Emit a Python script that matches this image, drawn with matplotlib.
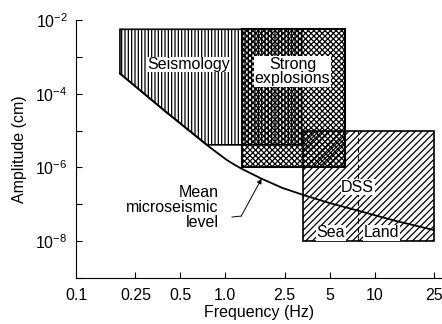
import numpy as np
import matplotlib
matplotlib.use("Agg")
import matplotlib.pyplot as plt
from matplotlib.patches import Polygon, Rectangle

plt.rcParams['font.family'] = ['Liberation Sans', 'DejaVu Sans']
plt.rcParams['mathtext.default'] = 'regular'
plt.rcParams['hatch.linewidth'] = 0.9

# Mean microseismic level curve (Hz, cm)
curve_freq = [0.197, 0.395, 0.781, 0.90, 1.03, 1.15, 1.30, 1.74, 2.4, 3.39, 5.0, 7.57, 14.0, 25.0]
curve_amp = [3.53e-4, 3.37e-5, 3.62e-6, 2.35e-6, 1.57e-6, 1.19e-6, 9.0e-7, 5.0e-7, 2.8e-7,
             1.75e-7, 1.08e-7, 6.9e-8, 3.5e-8, 2.0e-8]

# Regions: (f_min, f_max, a_min, a_max)
seismology = (0.197, 3.25, 4.1e-6, 5.6e-3)
explosions = (1.3, 6.3, 1.0e-6, 5.6e-3)
dss = (3.3, 25.0, 1.0e-8, 1.0e-5)
dss_split = 7.7

xticks = [0.1, 0.25, 0.5, 1.0, 2.5, 5, 10, 25]
xticklabels = ['0.1', '0.25', '0.5', '1.0', '2.5', '5', '10', '25']
yticks = [1e-9, 1e-8, 1e-7, 1e-6, 1e-5, 1e-4, 1e-3, 1e-2]
yticklabels = ['', r'$10^{-8}$', '', r'$10^{-6}$', '', r'$10^{-4}$', '', r'$10^{-2}$']

FS = 11.5

fig = plt.figure(figsize=(4.42, 3.24), dpi=100)
ax = fig.add_axes([76/442, 46/324, 366/442, 258/324])
ax.set_xscale('log')
ax.set_yscale('log')
ax.set_xlim(0.1, 28.3)
ax.set_ylim(1e-9, 1e-2)

lf = np.log10(curve_freq)
la = np.log10(curve_amp)

# Seismology polygon: box bounded below by the curve
f0, f1, a0, a1 = seismology
xc = 10 ** np.interp(np.log10(a0), la[::-1], lf[::-1])
mask = np.array(curve_freq) < xc
cf = list(np.array(curve_freq)[mask]) + [xc]
ca = list(np.array(curve_amp)[mask]) + [a0]
verts = [(f0, a1), (f1, a1), (f1, a0)] + list(zip(cf[::-1], ca[::-1]))
ax.add_patch(Polygon(verts, closed=True, facecolor='none', edgecolor='black',
                     hatch='|||||', lw=1.2, zorder=2))

# Strong explosions
f0, f1, a0, a1 = explosions
ax.add_patch(Rectangle((f0, a0), f1 - f0, a1 - a0, facecolor='none', edgecolor='black',
                       hatch='xxxxxx', lw=1.5, zorder=2))

# DSS
f0, f1, a0, a1 = dss
ax.add_patch(Rectangle((f0, a0), f1 - f0, a1 - a0, facecolor='none', edgecolor='black',
                       hatch='/////', lw=1.2, zorder=2))
ax.plot([dss_split, dss_split], [a0, a1], color='black', lw=0.8,
        linestyle=(0, (5, 3)), zorder=3)

# Mean microseismic curve
ax.plot(curve_freq, curve_amp, color='black', lw=1.3, zorder=4)

bb = dict(facecolor='white', edgecolor='none', pad=0.3)
ax.text(0.565, 6.2e-4, 'Seismology', ha='center', va='center', fontsize=FS, bbox=bb, zorder=5)
ax.text(2.82, 4.0e-4, 'Strong\nexplosions', ha='center', va='center', fontsize=FS,
        linespacing=0.95, bbox=bb, zorder=5)
ax.text(7.7, 2.9e-7, 'DSS', ha='center', va='center', fontsize=FS, bbox=bb, zorder=5)
ax.text(5.1, 1.7e-8, 'Sea', ha='center', va='center', fontsize=FS, bbox=bb, zorder=5)
ax.text(11.1, 1.7e-8, 'Land', ha='center', va='center', fontsize=FS, bbox=bb, zorder=5)

ax.text(0.90, 8.3e-8, 'Mean\nmicroseismic\nlevel', ha='right', va='center', fontsize=FS,
        linespacing=1.0, zorder=5)
ax.plot([1.11, 1.28], [4.5e-8, 4.8e-8], color='black', lw=0.7, zorder=5)
ax.annotate('', xy=(1.75, 4.95e-7), xytext=(1.28, 4.8e-8),
            arrowprops=dict(arrowstyle='-|>', lw=0.7, color='black', mutation_scale=7,
                            shrinkA=0, shrinkB=0), zorder=5)

ax.set_xticks(xticks)
ax.set_xticklabels(xticklabels, fontsize=FS)
ax.set_yticks(yticks)
ax.set_yticklabels(yticklabels, fontsize=FS)
ax.minorticks_off()
ax.tick_params(axis='both', direction='in', length=4, width=0.8)
ax.tick_params(axis='x', pad=7)
ax.tick_params(axis='y', pad=6)
ax.spines['top'].set_visible(False)
ax.spines['right'].set_visible(False)

ax.set_xlabel('Frequency (Hz)', fontsize=FS, labelpad=2)
ax.set_ylabel('Amplitude (cm)', fontsize=FS, labelpad=6)

fig.savefig('out.png', dpi=100)
